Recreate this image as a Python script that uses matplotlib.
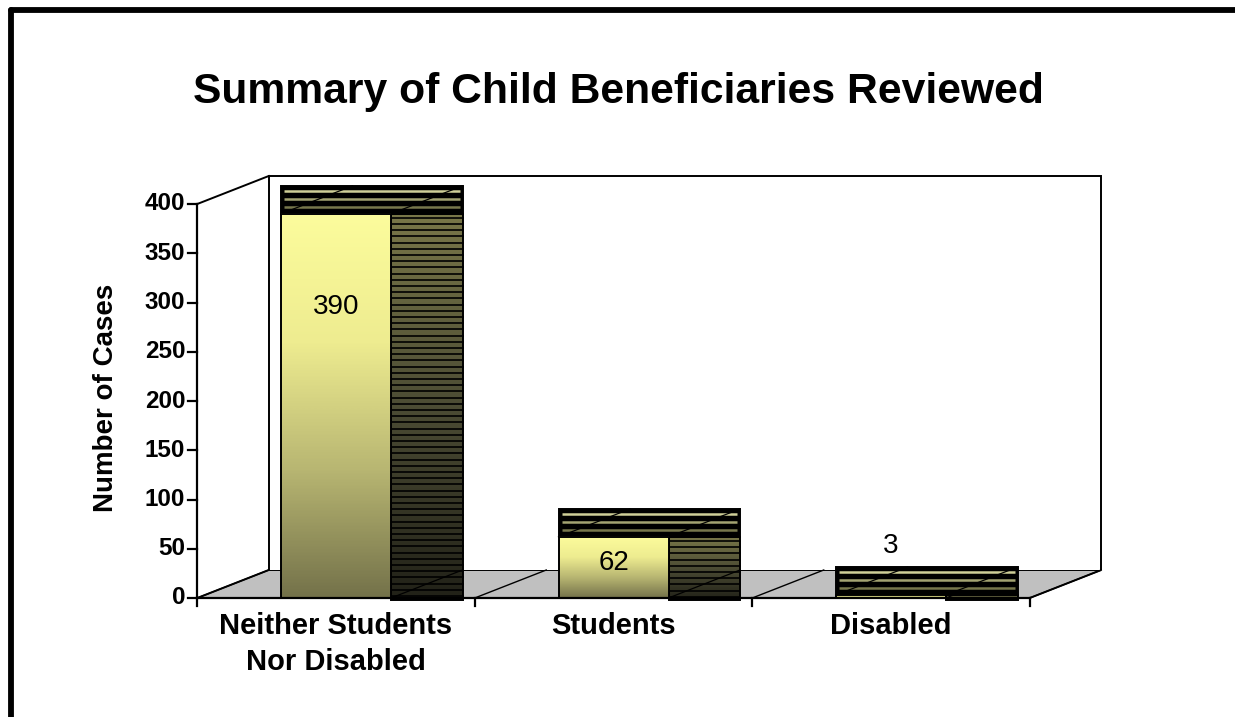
import matplotlib
matplotlib.use("Agg")
import matplotlib.pyplot as plt
import numpy as np
from matplotlib.colors import LinearSegmentedColormap, to_rgb
from matplotlib.lines import Line2D
from matplotlib.patches import Polygon, Rectangle

plt.rcParams["font.family"] = ["Liberation Sans", "DejaVu Sans"]

# data
CATEGORIES = ["Neither Students\nNor Disabled", "Students", "Disabled"]
CASES = [390, 62, 3]
Y_TICKS = [0, 50, 100, 150, 200, 250, 300, 350, 400]
TITLE = "Summary of Child Beneficiaries Reviewed"
Y_LABEL = "Number of Cases"

# layout (figure pixels -> data scale)
W, H = 1235, 717
X0_PX, CAT_PX = 336.0, 277.5      # category 0 centre, pixels per category
Y0_PX, VAL_PX = 598.0, 0.985      # baseline pixel, pixels per case
DX = 71.5 / CAT_PX                # 3-d depth offset, category units
DY = 28.0 / VAL_PX                # 3-d depth offset, value units
HALF_W = 55.0 / CAT_PX            # half width of bar front face
LABEL_Y = [295, 36, 53]           # where the value labels sit
PX_Y = 1.0 / VAL_PX               # one pixel in value units
PX_X = 1.0 / CAT_PX

FRONT = LinearSegmentedColormap.from_list("front", ["#74724a", "#b8b672", "#eeec90", "#fcfc9c"])
SIDE = LinearSegmentedColormap.from_list("side", ["#222218", "#4c4c34", "#787648"])
TOP_LIGHT, TOP_DARK = np.array(to_rgb("#cfcf98")), np.array(to_rgb("#77774c"))

fig = plt.figure(figsize=(W / 100, H / 100), dpi=100)
ax = fig.add_axes([0, 0, 1, 1])
ax.axis("off")

x_left, x_right = -0.5, len(CATEGORIES) - 0.5
y_top = Y_TICKS[-1]

# floor and walls
floor = Polygon([(x_left, 0), (x_left + DX, DY), (x_right + DX, DY), (x_right, 0)],
                closed=True, facecolor="#c0c0c0", edgecolor="black", lw=1.4, zorder=1)
ax.add_patch(floor)
back = Polygon([(x_left + DX, DY), (x_left + DX, y_top + DY), (x_right + DX, y_top + DY), (x_right + DX, DY)],
               closed=False, facecolor="white", edgecolor="black", lw=1.4, zorder=1)
ax.add_patch(back)
ax.plot([x_left, x_left + DX], [y_top, y_top + DY], color="black", lw=1.4, zorder=1)
for b in np.arange(len(CATEGORIES) + 1) - 0.5:
    ax.plot([b, b + DX], [0, DY], color="black", lw=1.0, zorder=1.5)

# bars
for i, v in enumerate(CASES):
    l, r = i - HALF_W, i + HALF_W
    # side face
    ax.imshow(np.linspace(0, 1, 64).reshape(-1, 1), cmap=SIDE, origin="lower",
              extent=(r, r + DX, -2 * PX_Y, v), aspect="auto", zorder=2, interpolation="bilinear")
    for yy in np.arange(v - 4 * PX_Y, -2 * PX_Y, -6.2 * PX_Y):
        ax.plot([r, r + DX], [yy, yy], color="black", lw=1.2, zorder=2.1)
    ax.add_patch(Rectangle((r, -2 * PX_Y), DX, v + 2 * PX_Y, fill=False, edgecolor="black", lw=1.4, zorder=2.2))
    # top band
    ax.add_patch(Rectangle((l, v), r + DX - l, DY, facecolor="black", edgecolor="black", lw=1.4, zorder=3))
    stripes = np.arange(v + DY - 5 * PX_Y, v, -8.2 * PX_Y)
    for k, yy in enumerate(stripes):
        t = k / max(len(stripes) - 1, 1)
        ax.plot([l + 3 * PX_X, r + DX - 3 * PX_X], [yy, yy], color=TOP_LIGHT * (1 - t) + TOP_DARK * t,
                lw=1.8, zorder=3.1, solid_capstyle="butt")
    for xs in (l, r):
        ax.plot([xs, xs + DX], [v, v + DY], color="black", lw=0.9, zorder=3.2)
    ax.plot([r, r + DX], [0, DY], color="black", lw=0.9, zorder=2.3)
    # front face
    ax.imshow(np.linspace(0, 1, 128).reshape(-1, 1), cmap=FRONT, origin="lower",
              extent=(l, r, 0, v), aspect="auto", zorder=4, interpolation="bilinear")
    ax.add_patch(Rectangle((l, 0), r - l, v, fill=False, edgecolor="black", lw=1.4, zorder=4.1))
    ax.text(i, LABEL_Y[i], str(v), ha="center", va="center", fontsize=20, zorder=5)

# axes lines and ticks
ax.plot([x_left, x_left], [0, y_top], color="black", lw=1.6, zorder=6)
ax.plot([x_left, x_right], [0, 0], color="black", lw=1.6, zorder=6)
for t in Y_TICKS:
    ax.plot([x_left - 9 * PX_X, x_left], [t, t], color="black", lw=1.6, zorder=6)
    ax.text(x_left - 12 * PX_X, t, str(t), ha="right", va="center", fontsize=17.5, fontweight="bold")
for b in np.arange(len(CATEGORIES) + 1) - 0.5:
    ax.plot([b, b], [0, -8 * PX_Y], color="black", lw=1.6, zorder=6)
for i, name in enumerate(CATEGORIES):
    ax.text(i, -14 * PX_Y, name, ha="center", va="top", fontsize=21, fontweight="bold", linespacing=1.35)

ax.text(-0.83, 203, Y_LABEL, rotation=90, ha="center", va="center", fontsize=20, fontweight="bold")
fig.text(618 / W, 1 - 88 / H, TITLE, ha="center", va="center_baseline", fontsize=30.7, fontweight="bold")

ax.set_xlim(-X0_PX / CAT_PX, (W - X0_PX) / CAT_PX)
ax.set_ylim((Y0_PX - H) / VAL_PX, Y0_PX / VAL_PX)

# outer chart frame (only left and top edges show)
fig.add_artist(Line2D([10.5 / W, 10.5 / W], [0, 1 - 10 / H], color="black", lw=4.2,
                      transform=fig.transFigure, solid_capstyle="round"))
fig.add_artist(Line2D([10.5 / W, 1], [1 - 10 / H, 1 - 10 / H], color="black", lw=4.2,
                      transform=fig.transFigure, solid_capstyle="round"))

fig.savefig("out.png", dpi=100)
